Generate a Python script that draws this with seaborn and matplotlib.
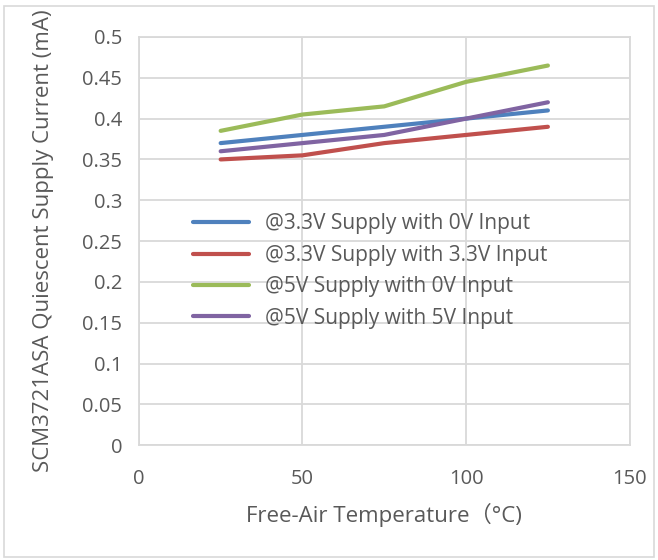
import matplotlib
matplotlib.use("Agg")
import matplotlib.pyplot as plt
from matplotlib.patches import Rectangle
import seaborn as sns
import pandas as pd

temps = [25, 50, 75, 100, 125]
series_names = [
    "@3.3V Supply with 0V Input",
    "@3.3V Supply with 3.3V Input",
    "@5V Supply with 0V Input",
    "@5V Supply with 5V Input",
]
s33_0v = [0.37, 0.38, 0.39, 0.40, 0.41]
s33_33v = [0.35, 0.355, 0.37, 0.38, 0.39]
s5_0v = [0.385, 0.405, 0.415, 0.445, 0.465]
s5_5v = [0.36, 0.37, 0.38, 0.40, 0.42]
colors = ["#4F81BD", "#C0504D", "#9BBB59", "#8064A2"]
x_ticks = [0, 50, 100, 150]
y_ticks = [0, 0.05, 0.1, 0.15, 0.2, 0.25, 0.3, 0.35, 0.4, 0.45, 0.5]
y_ticklabels = ["0", "0.05", "0.1", "0.15", "0.2", "0.25", "0.3", "0.35", "0.4", "0.45", "0.5"]

rows = []
for name, vals in zip(series_names, [s33_0v, s33_33v, s5_0v, s5_5v]):
    for t, v in zip(temps, vals):
        rows.append({"Temp": t, "Current": v, "Series": name})
df = pd.DataFrame(rows)

sns.set_theme(style="white")
plt.rcParams["font.family"] = ["Open Sans", "Noto Sans CJK SC", "DejaVu Sans"]
txt = "#595959"
grid = "#D9D9D9"

fig = plt.figure(figsize=(6.58, 5.6), dpi=100)
ax = fig.add_axes([0.211, 0.205, 0.746, 0.729])
sns.lineplot(data=df, x="Temp", y="Current", hue="Series", hue_order=series_names,
             palette=colors, linewidth=3, ax=ax, legend=True)

ax.set_xlim(0, 150)
ax.set_ylim(0, 0.5)
ax.set_xticks(x_ticks)
ax.set_xticklabels([str(t) for t in x_ticks])
ax.set_yticks(y_ticks)
ax.set_yticklabels(y_ticklabels)
ax.grid(True, color=grid, linewidth=1.3)
ax.set_axisbelow(True)
for sp in ax.spines.values():
    sp.set_color(grid)
    sp.set_linewidth(1.3)
ax.tick_params(axis="both", colors=txt, labelsize=14.5, length=0)
ax.tick_params(axis="x", pad=17)
ax.tick_params(axis="y", pad=12)
ax.set_xlabel("Free-Air Temperature（°C)", color=txt, fontsize=16, labelpad=10)
ax.set_ylabel("SCM3721ASA Quiescent Supply Current (mA)", color=txt, fontsize=16, labelpad=20)

handles, labels = ax.get_legend_handles_labels()
leg = ax.legend(handles, labels, loc="upper left", bbox_to_anchor=(0.093, 0.588),
                frameon=False, fontsize=15, handlelength=2.7, labelspacing=0.5,
                handletextpad=0.75, borderaxespad=0)
for t in leg.get_texts():
    t.set_color(txt)
for l in leg.get_lines():
    l.set_linewidth(3)

fig.add_artist(Rectangle((0.006, 0.006), 0.988, 0.984, transform=fig.transFigure,
                         fill=False, edgecolor=grid, linewidth=1.2))
fig.savefig("out.png", dpi=100)
